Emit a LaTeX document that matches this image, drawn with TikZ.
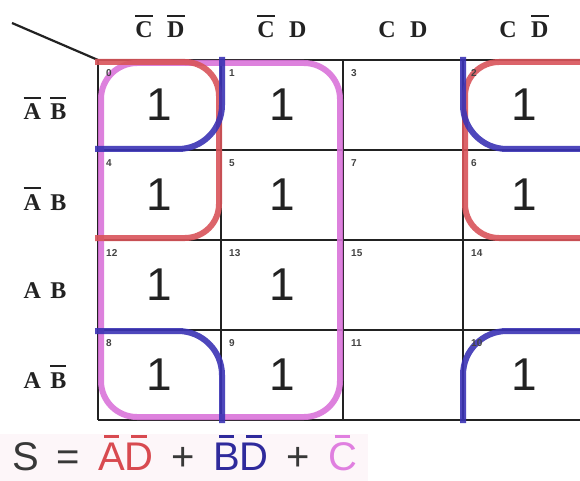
\documentclass[tikz,border=0pt]{standalone}
\usepackage{fontspec}
\setmainfont{Liberation Serif}
\newfontfamily\sansf{Liberation Sans}
\definecolor{gred}{HTML}{D9545A}
\definecolor{gblue}{HTML}{3B33B5}
\definecolor{gmag}{HTML}{DA74DA}
\definecolor{eqred}{HTML}{D84A50}
\definecolor{eqblue}{HTML}{2F2A9C}
\definecolor{eqmag}{HTML}{E07FE0}
\definecolor{ink}{HTML}{222222}
\definecolor{eqbg}{HTML}{FDF6F9}
\newcommand{\ovl}[1]{{\setbox0\hbox{#1}\rlap{\raisebox{0.86em}{\rule{\wd0}{0.08em}}}\box0}}
\newcommand{\mac}[1]{{\setbox0\hbox{#1}\rlap{\hbox to \wd0{\hss\raisebox{0.8em}{\rule{0.55\wd0}{0.07em}}\hss}}\box0}}
\begin{document}
\begin{tikzpicture}[x=1pt,y=-1pt,
  gridl/.style={draw=ink,line width=1.6pt},
  hdr/.style={font=\fontsize{24}{24}\selectfont\bfseries,text=ink,anchor=base,inner sep=0},
  rowlab/.style={font=\fontsize{24}{24}\selectfont\bfseries,text=ink,anchor=base,inner sep=0},
  val/.style={font=\sansf\fontsize{46}{46}\selectfont,text=ink,inner sep=0},
  idx/.style={font=\sansf\bfseries\fontsize{10}{10}\selectfont,text=ink!85,anchor=west,inner sep=0},
  grpred/.style={draw=gred,line width=6pt,opacity=0.9},
  grpblue/.style={draw=gblue,line width=6pt,opacity=0.9},
  grpmag/.style={draw=gmag,line width=6pt,opacity=0.9}]
\clip (0,0) rectangle (580,481);
\fill[white] (0,0) rectangle (580,481);
\fill[eqbg] (0,434) rectangle (368,481);
% grid
\foreach \y in {60,150,240,330,420} \draw[gridl] (98,\y) -- (590,\y);
\foreach \x in {98,221,343,463} \draw[gridl] (\x,60) -- (\x,420);
\draw[ink,line width=2.2pt] (12,23) coordinate (diagA) -- (98,60) coordinate (diagB);
% headers
\node[hdr] (h0) at (160,38) {\ovl{C}\hspace{0.6em}\ovl{D}};
\node[hdr] (h1) at (282,38) {\ovl{C}\hspace{0.6em}D};
\node[hdr] (h3) at (403,38) {C\hspace{0.6em}D};
\node[hdr] (h2) at (524,38) {C\hspace{0.6em}\ovl{D}};
% row labels
\node[rowlab] (r0) at (45,120) {\ovl{A}\hspace{0.4em}\ovl{B}};
\node[rowlab] (r1) at (45,210) {\ovl{A}\hspace{0.4em}B};
\node[rowlab] (r2) at (45,298) {A\hspace{0.4em}B};
\node[rowlab] (r3) at (45,388) {A\hspace{0.4em}\ovl{B}};
% ones
\foreach \n/\x/\y in {0/159.5/105,1/282/105,2/524/105,
                      4/159.5/195,5/282/195,6/524/195,
                      12/159.5/285,13/282/285,
                      8/159.5/375,9/282/375,10/524/375}
  \node[val] (v\n) at (\x,\y) {1};
% groups
\draw[grpmag,rounded corners=36] (101,63) rectangle (340,417);
\draw[grpred,rounded corners=34] (95,62) -- (219,62) -- (219,238) -- (95,238);
\draw[grpred,rounded corners=34] (590,62) -- (465,62) -- (465,238) -- (590,238);
\draw[grpblue,rounded corners=44] (95,149) -- (222,149) -- (222,57);
\draw[grpblue,rounded corners=44] (463,57) -- (463,149) -- (590,149);
\draw[grpblue,rounded corners=44] (95,331) -- (222,331) -- (222,423);
\draw[grpblue,rounded corners=44] (463,423) -- (463,331) -- (590,331);
% cell indices
\foreach \n/\x/\y in {0/98/60,1/221/60,3/343/60,2/463/60,
                      4/98/150,5/221/150,7/343/150,6/463/150,
                      12/98/240,13/221/240,15/343/240,14/463/240,
                      8/98/330,9/221/330,11/343/330,10/463/330}
  \node[idx] (n\n) at (\x+8,\y+13) {\n};
% equation
\node[anchor=base west,inner sep=0,text=ink!90,font=\sansf\fontsize{40}{40}\selectfont] (eq) at (12,470)
  {S\hspace{18pt}=\hspace{18pt}\textcolor{eqred}{\mac{A}\mac{D}}\hspace{18pt}+\hspace{18pt}\textcolor{eqblue}{\mac{B}\mac{D}}\hspace{18pt}+\hspace{18pt}\textcolor{eqmag}{\mac{C}}};
\end{tikzpicture}
\end{document}
